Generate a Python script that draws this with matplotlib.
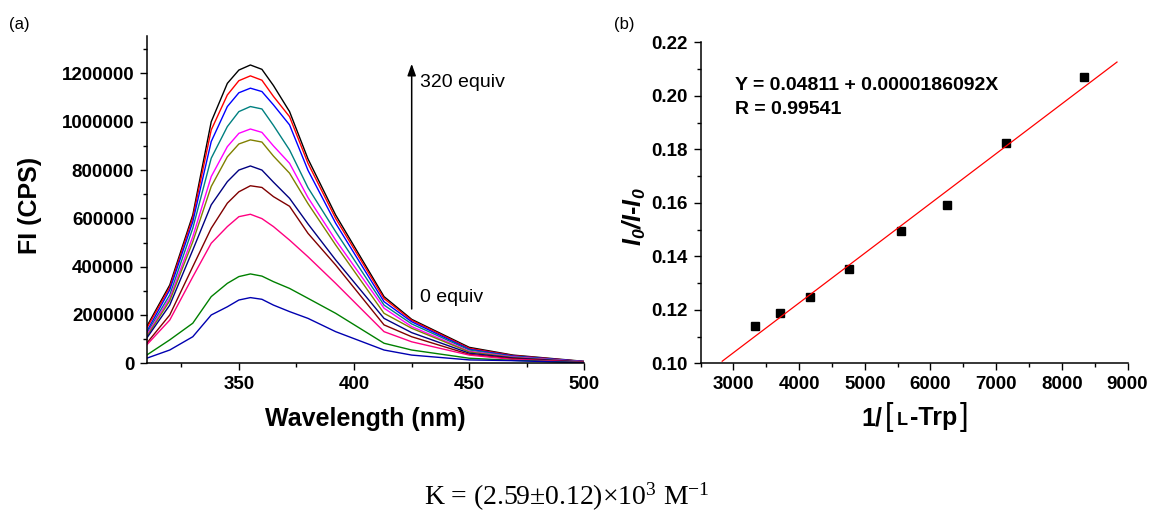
import matplotlib
matplotlib.use('Agg')
import matplotlib.pyplot as plt
from matplotlib.ticker import MultipleLocator
from matplotlib.offsetbox import TextArea, HPacker, AnnotationBbox

plt.rcParams['font.family'] = ['Liberation Sans', 'DejaVu Sans']
plt.rcParams['mathtext.fontset'] = 'custom'
plt.rcParams['mathtext.rm'] = 'Liberation Serif'
plt.rcParams['mathtext.it'] = 'Liberation Serif:italic'
plt.rcParams['mathtext.bf'] = 'Liberation Sans:bold:italic'

# ---------------- data: panel (a) ----------------
wavelength = [310, 320, 330, 338, 345, 350, 355, 360, 365, 372, 380, 392, 413, 425, 450, 469, 500]
fi_black   = [152, 324, 614, 1000, 1159, 1214, 1235, 1217, 1150, 1042, 846, 614, 276, 182, 66, 34, 8]
fi_red     = [145, 315, 603, 966, 1111, 1170, 1190, 1172, 1105, 1021, 828, 600, 268, 178, 62, 32, 7]
fi_blue    = [131, 304, 586, 918, 1063, 1120, 1139, 1125, 1070, 987, 799, 580, 255, 172, 58, 30, 7]
fi_teal    = [124, 283, 559, 849, 980, 1042, 1063, 1053, 985, 883, 727, 545, 241, 163, 55, 28, 6]
fi_magenta = [117, 269, 524, 773, 897, 952, 970, 956, 900, 828, 686, 510, 228, 152, 50, 26, 6]
fi_olive   = [110, 259, 503, 732, 855, 908, 925, 916, 858, 787, 661, 490, 207, 145, 47, 24, 5]
fi_navy    = [104, 241, 469, 656, 752, 800, 817, 800, 750, 683, 577, 428, 186, 127, 42, 22, 5]
fi_brown   = [83, 200, 400, 559, 663, 710, 735, 728, 690, 650, 538, 407, 159, 110, 37, 19, 4]
fi_pink    = [76, 179, 358, 497, 566, 607, 617, 599, 566, 510, 441, 331, 131, 89, 34, 16, 4]
fi_green   = [34, 97, 166, 276, 331, 359, 370, 361, 338, 310, 269, 207, 83, 55, 21, 12, 3]
fi_blue0   = [21, 55, 110, 200, 234, 262, 272, 265, 241, 214, 186, 131, 55, 34, 14, 11, 2]

spectra = [fi_black, fi_red, fi_blue, fi_teal, fi_magenta, fi_olive,
           fi_navy, fi_brown, fi_pink, fi_green, fi_blue0]
spectra_colors = ['#000000', '#FF0000', '#0000FF', '#008080', '#FF00FF', '#808000',
                  '#000080', '#800000', '#FF0080', '#008000', '#0000B0']

# ---------------- data: panel (b) ----------------
inv_conc = [3333, 3704, 4167, 4762, 5556, 6250, 7143, 8333]
ratio = [0.1139, 0.1188, 0.1249, 0.1351, 0.1493, 0.1593, 0.1824, 0.2069]
fit_intercept = 0.04811
fit_slope = 0.0000186092
fit_x = [2830, 8840]

W, H = 1154, 511
fig = plt.figure(figsize=(W / 100, H / 100), dpi=100)


def px(x, y):
    return x / W, 1 - y / H


def style_axes(ax):
    for s in ['top', 'right']:
        ax.spines[s].set_visible(False)
    for s in ['left', 'bottom']:
        ax.spines[s].set_linewidth(1.1)
    ax.tick_params(which='major', direction='out', length=5, width=1.0, pad=4,
                   labelsize=13.5)
    ax.tick_params(which='minor', direction='out', length=3, width=1.0)
    for lab in ax.get_xticklabels() + ax.get_yticklabels():
        lab.set_fontweight('bold')


# ---------- panel (a) ----------
ax1 = fig.add_axes([146.7 / W, 1 - 363.3 / H, (584.5 - 146.7) / W, (363.3 - 36) / H])
for vals, c in zip(spectra, spectra_colors):
    ax1.plot(wavelength, [v * 1000 for v in vals], color=c, lw=1.0)
ax1.set_xlim(310, 500)
ax1.set_ylim(0, 1355000)
ax1.xaxis.set_minor_locator(MultipleLocator(25))
ax1.yaxis.set_minor_locator(MultipleLocator(100000))
ax1.set_yticks([0, 200000, 400000, 600000, 800000, 1000000, 1200000])
ax1.set_yticklabels(['0', '200000', '400000', '600000', '800000', '1000000', '1200000'])
ax1.set_xticks([350, 400, 450, 500])
ax1.set_xticklabels(['350', '400', '450', '500'])
style_axes(ax1)

ax1.annotate('', xy=(425, 1240000), xytext=(425, 225000),
             arrowprops=dict(arrowstyle='-|>,head_length=0.5,head_width=0.18',
                             color='black', lw=1.1, mutation_scale=14,
                             shrinkA=0, shrinkB=0))
ax1.text(428.5, 1162000, '320 equiv', fontsize=14, va='center', ha='left')
ax1.text(428.5, 273000, '0 equiv', fontsize=14, va='center', ha='left')

fig.text(*px(30, 205), 'FI (CPS)', rotation=90, fontsize=18, fontweight='bold',
         ha='center', va='center')
fig.text(*px(365.5, 419), 'Wavelength (nm)', fontsize=18, fontweight='bold',
         ha='center', va='center')
fig.text(*px(19, 25), '(a)', fontsize=12, ha='center', va='center')

# ---------- panel (b) ----------
ax2 = fig.add_axes([700.5 / W, 1 - 363.3 / H, (1127.5 - 700.5) / W, (363.3 - 42.3) / H])
ax2.plot(inv_conc, ratio, 's', color='black', ms=6, mec='black')
ax2.plot(fit_x, [fit_intercept + fit_slope * x for x in fit_x], color='#FF0000', lw=0.9)
ax2.set_xlim(2500, 9000)
ax2.set_ylim(0.10, 0.22)
ax2.set_xticks([3000, 4000, 5000, 6000, 7000, 8000, 9000])
ax2.set_xticklabels(['3000', '4000', '5000', '6000', '7000', '8000', '9000'])
ax2.xaxis.set_minor_locator(MultipleLocator(500))
ax2.set_yticks([0.10, 0.12, 0.14, 0.16, 0.18, 0.20, 0.22])
ax2.set_yticklabels(['0.10', '0.12', '0.14', '0.16', '0.18', '0.20', '0.22'])
ax2.yaxis.set_minor_locator(MultipleLocator(0.01))
style_axes(ax2)

ax2.text(3025, 0.2037, 'Y = 0.04811 + 0.0000186092X', fontsize=14, fontweight='bold',
         va='center', ha='left')
ax2.text(3025, 0.1947, 'R = 0.99541', fontsize=14, fontweight='bold',
         va='center', ha='left')

fig.text(*px(634, 216.7), r'$\mathbf{I_0/I}$-$\mathbf{I_0}$', rotation=90, fontsize=18,
         fontweight='bold', ha='center', va='center')
fig.text(*px(624, 24), '(b)', fontsize=12, ha='center', va='center')

bold18 = dict(fontsize=18, fontweight='bold', family=['Liberation Sans'])
brk = dict(fontsize=22, fontweight='normal', family=['Liberation Sans'])
box = HPacker(children=[
    TextArea('1/', textprops=bold18),
    TextArea('[', textprops=brk),
    TextArea('L', textprops=dict(fontsize=13, fontweight='bold', family=['Liberation Sans'])),
    TextArea('-Trp', textprops=bold18),
    TextArea(']', textprops=brk),
], align='baseline', pad=0, sep=2)
ab = AnnotationBbox(box, px(915, 417), xycoords='figure fraction', frameon=False,
                    box_alignment=(0.5, 0.5))
fig.add_artist(ab)

# ---------- bottom formula ----------
fig.text(*px(567, 505), r'K = (2.59±0.12)×10$^{3}$ M$^{\mathrm{-1}}$', fontsize=20,
         family=['Liberation Serif', 'DejaVu Serif'], ha='center', va='baseline')

fig.savefig('out.png', dpi=100)
